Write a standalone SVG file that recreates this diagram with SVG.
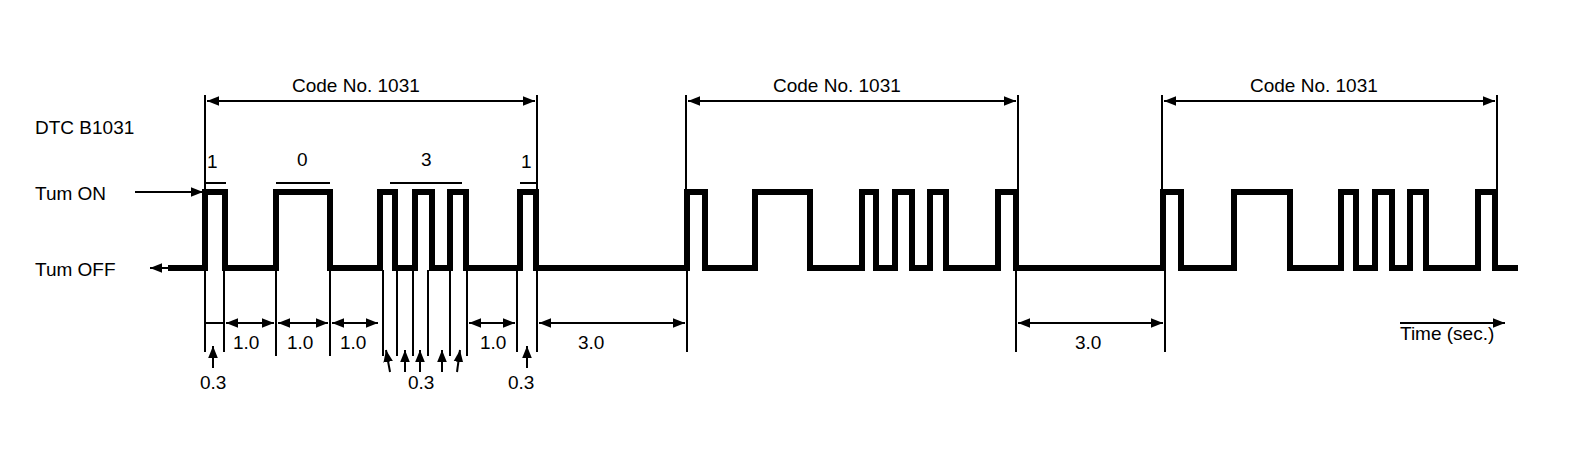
<svg xmlns="http://www.w3.org/2000/svg" width="1572" height="468" viewBox="0 0 1572 468">
<style>
text{font-family:"Liberation Sans",Arial,sans-serif;font-size:19px;fill:#000}
.sig{fill:none;stroke:#000;stroke-width:6}
.dim{fill:none;stroke:#000;stroke-width:2}
</style>
<defs>
<marker id="a" viewBox="0 0 10 10" refX="10" refY="5" markerWidth="6" markerHeight="6" orient="auto-start-reverse"><path d="M0,1L10,5L0,9z" fill="#000"/></marker>
</defs>
<rect width="1572" height="468" fill="#fff"/>
<g id="labels">
<text x="35" y="134">DTC B1031</text>
<text x="35" y="200">Tum ON</text>
<text x="35" y="276">Tum OFF</text>
<text x="292" y="92">Code No. 1031</text>
<text x="773" y="92">Code No. 1031</text>
<text x="1250" y="92">Code No. 1031</text>
<text x="207" y="168">1</text>
<text x="297" y="166">0</text>
<text x="421" y="166">3</text>
<text x="521" y="168">1</text>
<text x="233" y="349">1.0</text>
<text x="287" y="349">1.0</text>
<text x="340" y="349">1.0</text>
<text x="480" y="349">1.0</text>
<text x="578" y="349">3.0</text>
<text x="1075" y="349">3.0</text>
<text x="200" y="389">0.3</text>
<text x="408" y="389">0.3</text>
<text x="508" y="389">0.3</text>
<text x="1400" y="340">Time (sec.)</text>
</g>
<g id="signal">
<path class="sig" d="M168,268H205V192H225V268H276V192H330V268H380V192H395V268H415V192H432V268H450V192H466V268H520V192H536V268H687V192H705V268H755V192H810V268H862V192H876V268H895V192H912V268H930V192H946V268H998V192H1016V268H1163V192H1181V268H1234V192H1290V268H1341V192H1356V268H1375V192H1392V268H1410V192H1426V268H1478V192H1495V268H1518"/>
</g>
<g id="connectors" class="dim">
<path d="M135,192H203" marker-end="url(#a)"/>
<path d="M170,268H150" marker-end="url(#a)"/>
<path d="M205,95V190M537,95V190M686,95V190M1018,95V190M1162,95V190M1497,95V190"/>
<path d="M207,101H535" marker-start="url(#a)" marker-end="url(#a)"/>
<path d="M688,101H1016" marker-start="url(#a)" marker-end="url(#a)"/>
<path d="M1164,101H1495" marker-start="url(#a)" marker-end="url(#a)"/>
<path d="M205,183H226M276,183H330M390,183H462M520,183H536"/>
<path d="M205,270V352M224,270V352M276,270V356M330,270V356M383,270V356M397,270V356M413,270V356M428,270V356M450,270V356M467,270V356M517,270V352M537,270V352M687,270V352M1016,270V352M1165,270V352"/>
<path d="M205,323H224"/>
<path d="M226,323H274" marker-start="url(#a)" marker-end="url(#a)"/>
<path d="M278,323H328" marker-start="url(#a)" marker-end="url(#a)"/>
<path d="M332,323H378" marker-start="url(#a)" marker-end="url(#a)"/>
<path d="M469,323H515" marker-start="url(#a)" marker-end="url(#a)"/>
<path d="M539,323H685" marker-start="url(#a)" marker-end="url(#a)"/>
<path d="M1018,323H1163" marker-start="url(#a)" marker-end="url(#a)"/>
<path d="M1400,323H1505" marker-end="url(#a)"/>
<path d="M213,368V346" marker-end="url(#a)"/>
<path d="M527,368V346" marker-end="url(#a)"/>
<path d="M390,372L386,350" marker-end="url(#a)"/>
<path d="M405,372V350" marker-end="url(#a)"/>
<path d="M420,372V350" marker-end="url(#a)"/>
<path d="M442,372V350" marker-end="url(#a)"/>
<path d="M457,372L460,350" marker-end="url(#a)"/>
</g>
</svg>
